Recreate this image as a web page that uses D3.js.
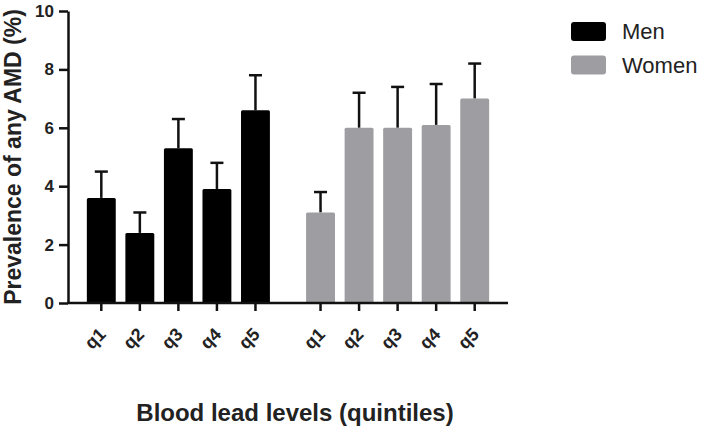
<!DOCTYPE html>
<html>
<head>
	<meta charset="utf-8">
	<title>AMD prevalence</title>
	<script src="https://d3js.org/d3.v7.min.js"></script>
	<style type="text/css">
		body{margin:0;background:#fff;}
		text{font-family:"Liberation Sans",Arial,sans-serif;}
		.axis path,
		.axis line{
			fill:none;
			stroke:#111;
			stroke-width:2.5px;
		}
	</style>
</head>
<body>
	<script type="text/javascript">
		// data
		var groups = ["Men","Women"];
		var quintiles = ["q1","q2","q3","q4","q5"];
		var menValues = [3.6,2.4,5.3,3.9,6.6];
		var menUpper = [4.5,3.1,6.3,4.8,7.8];
		var womenValues = [3.1,6.0,6.0,6.1,7.0];
		var womenUpper = [3.8,7.2,7.4,7.5,8.2];
		var yTicks = [0,2,4,6,8,10];
		var colors = {"Men":"#000000","Women":"#9e9ea2"};

		var w = 705;
		var h = 429;
		// note: "top" is taken by window.top, so use other names
		var mLeft = 68, mRight = 508, mTop = 11, mBottom = 303;

		var svg = d3.select("body").append("svg")
			.attr("width",w)
			.attr("height",h);

		// rows built from the arrays
		var rows = [];
		quintiles.forEach(function(q,i){
			rows.push({group:"Men",q:q,v:menValues[i],hi:menUpper[i]});
		});
		quintiles.forEach(function(q,i){
			rows.push({group:"Women",q:q,v:womenValues[i],hi:womenUpper[i]});
		});

		var x0 = d3.scaleBand()
			.domain(groups)
			.range([mLeft,mRight])
			.paddingInner(0.121)
			.paddingOuter(0.064);

		var x1 = d3.scaleBand()
			.domain(quintiles)
			.range([0,x0.bandwidth()])
			.paddingInner(0.25)
			.paddingOuter(0.125);

		var y = d3.scaleLinear()
			.domain([0,10])
			.range([mBottom,mTop]);

		function groupRows(grp){
			return rows.filter(function(r){ return r.group == grp; });
		}
		function cx(d){ return x1(d.q) + x1.bandwidth()/2; }

		var g = svg.selectAll("g.grp")
			.data(groups)
			.enter()
			.append("g")
			.attr("class","grp")
			.attr("transform",function(d){ return "translate(" + x0(d) + ",0)"; });

		// error bars (upper only)
		g.selectAll("line.err")
			.data(groupRows)
			.enter()
			.append("line")
			.attr("class","err")
			.attr("x1",cx)
			.attr("x2",cx)
			.attr("y1",function(d){ return y(d.v); })
			.attr("y2",function(d){ return y(d.hi); })
			.attr("stroke","#111")
			.attr("stroke-width",2.5);

		g.selectAll("line.cap")
			.data(groupRows)
			.enter()
			.append("line")
			.attr("class","cap")
			.attr("x1",function(d){ return cx(d) - 6.5; })
			.attr("x2",function(d){ return cx(d) + 6.5; })
			.attr("y1",function(d){ return y(d.hi); })
			.attr("y2",function(d){ return y(d.hi); })
			.attr("stroke","#111")
			.attr("stroke-width",2.5);

		g.selectAll("rect")
			.data(groupRows)
			.enter()
			.append("rect")
			.attr("x",function(d){ return x1(d.q); })
			.attr("y",function(d){ return y(d.v); })
			.attr("width",x1.bandwidth())
			.attr("height",function(d){ return y(0) - y(d.v); })
			.attr("rx",1.5)
			.attr("fill",function(d){ return colors[d.group]; });

		// axes
		var yAxis = d3.axisLeft(y)
			.tickValues(yTicks)
			.tickSize(9)
			.tickPadding(5)
			.tickSizeOuter(0);
		var gy = svg.append("g")
			.attr("class","axis")
			.attr("transform","translate(" + mLeft + ",0)")
			.call(yAxis);
		gy.selectAll(".tick text")
			.attr("font-size","17px")
			.attr("font-weight","bold")
			.attr("fill","#222");

		groups.forEach(function(grp){
			var xa = d3.axisBottom(x1)
				.tickSize(8)
				.tickSizeOuter(0);
			var ga = svg.append("g")
				.attr("class","axis")
				.attr("transform","translate(" + x0(grp) + "," + mBottom + ")")
				.call(xa);
			ga.select(".domain").remove();
			ga.selectAll(".tick text")
				.attr("font-size","18px")
				.attr("font-weight","bold")
				.attr("fill","#222")
				.attr("text-anchor","end")
				.attr("x",0)
				.attr("y",0)
				.attr("dy","0.35em")
				.attr("transform","translate(1,28) rotate(-45)");
		});

		// x baseline across the whole plot
		svg.append("line")
			.attr("x1",mLeft - 1)
			.attr("x2",mRight)
			.attr("y1",mBottom)
			.attr("y2",mBottom)
			.attr("stroke","#111")
			.attr("stroke-width",2.5);

		// titles
		svg.append("text")
			.text("Prevalence of any AMD (%)")
			.attr("transform","translate(21," + ((mTop + mBottom)/2) + ") rotate(-90)")
			.attr("text-anchor","middle")
			.attr("font-size","23px")
			.attr("font-weight","bold")
			.attr("fill","#222");

		svg.append("text")
			.text("Blood lead levels (quintiles)")
			.attr("x",295)
			.attr("y",421)
			.attr("text-anchor","middle")
			.attr("font-size","24px")
			.attr("font-weight","bold")
			.attr("fill","#222");

		// legend
		var lg = svg.selectAll("g.legend")
			.data(groups)
			.enter()
			.append("g")
			.attr("class","legend")
			.attr("transform",function(d,i){ return "translate(571," + (22 + i*33.5) + ")"; });
		lg.append("rect")
			.attr("width",35)
			.attr("height",19)
			.attr("rx",3)
			.attr("fill",function(d){ return colors[d]; });
		lg.append("text")
			.text(function(d){ return d; })
			.attr("x",51)
			.attr("y",17)
			.attr("font-size","22px")
			.attr("fill","#222");
	</script>
</body>
</html>
